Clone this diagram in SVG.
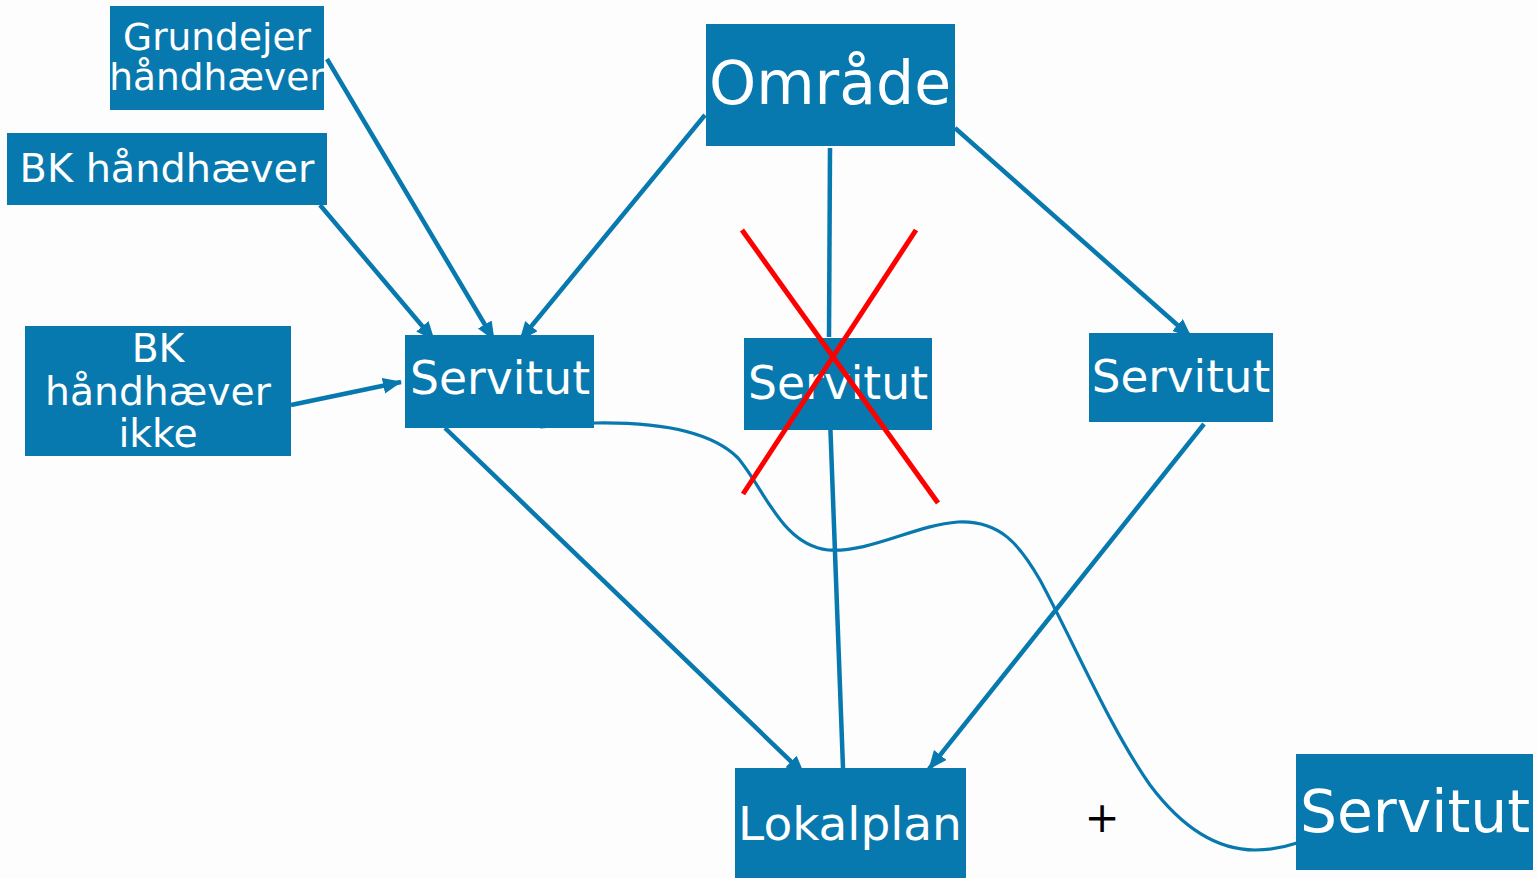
<svg xmlns="http://www.w3.org/2000/svg" width="1538" height="878" viewBox="0 0 1538 878">
<style>
.box{fill:#0779AE}
.t{font-family:"DejaVu Sans",Verdana,sans-serif;fill:#ffffff;text-anchor:middle}
.c{stroke:#0779AE;stroke-width:4.5;fill:none}
.a{marker-end:url(#ah)}
.x{stroke:#ff0000;stroke-width:5;fill:none}
</style>
<defs>
<marker id="ah" markerUnits="userSpaceOnUse" markerWidth="22" markerHeight="18" refX="18" refY="8" orient="auto">
<path d="M0,0 L19,8 L0,16 Z" fill="#0779AE"/>
</marker>
</defs>
<rect width="1538" height="878" fill="#fdfdfd"/>
<g id="connectors">
<line class="c a" x1="327" y1="59" x2="494" y2="340"/>
<line class="c a" x1="320" y1="205" x2="434" y2="340"/>
<line class="c a" x1="291" y1="405" x2="401" y2="382"/>
<line class="c a" x1="705" y1="115" x2="520" y2="340"/>
<line class="c" x1="830" y1="148" x2="829" y2="337"/>
<line class="c a" x1="955" y1="128" x2="1191" y2="337"/>
<line class="c a" x1="445" y1="428" x2="804" y2="774"/>
<line class="c" x1="830" y1="418" x2="843" y2="768"/>
<line class="c a" x1="1204" y1="424" x2="929" y2="769"/>
<path class="c" style="stroke-width:3.2" d="M540,427 L595,423 C660,422 712,432 738,458 C765,490 782,545 828,550 C870,553 915,525 958,522 C1000,520 1020,545 1040,580 C1075,645 1110,728 1150,785 C1180,825 1215,850 1255,850 C1272,850 1288,846 1297,843"/>
</g>
<g id="n-grundejer"><rect class="box" x="110" y="6" width="214" height="104"/><text class="t" x="217" y="50" font-size="37.5">Grundejer</text><text class="t" x="217" y="90" font-size="37.5">håndhæver</text></g>
<g id="n-bk"><rect class="box" x="7" y="133" width="320" height="72"/><text class="t" x="167" y="182" font-size="39.8">BK håndhæver</text></g>
<g id="n-bkikke"><rect class="box" x="25" y="326" width="266" height="130"/><text class="t" x="158" y="362" font-size="39.3">BK</text><text class="t" x="158" y="405" font-size="39.3">håndhæver</text><text class="t" x="158" y="447" font-size="39.3">ikke</text></g>
<g id="n-servitut1"><rect class="box" x="405" y="335" width="189" height="93"/><text class="t" x="500" y="394" font-size="45.6">Servitut</text></g>
<g id="n-omraade"><rect class="box" x="706" y="24" width="249" height="122"/><text class="t" x="830" y="104" font-size="60">Område</text></g>
<g id="n-servitut2"><rect class="box" x="744" y="338" width="188" height="92"/><text class="t" x="838" y="399" font-size="45.6">Servitut</text></g>
<g id="n-servitut3"><rect class="box" x="1089" y="333" width="184" height="89"/><text class="t" x="1181" y="392" font-size="45.2">Servitut</text></g>
<g id="n-lokalplan"><rect class="box" x="735" y="768" width="231" height="110"/><text class="t" x="850" y="840" font-size="47">Lokalplan</text></g>
<g id="n-servitut4"><rect class="box" x="1296" y="754" width="237" height="116"/><text class="t" x="1415" y="832" font-size="58.3">Servitut</text></g>
<g id="cross"><line class="x" x1="742" y1="230" x2="938" y2="503"/><line class="x" x1="916" y1="230" x2="743" y2="494"/></g>
<text x="1102" y="832" font-size="42" font-family="DejaVu Sans,sans-serif" text-anchor="middle" fill="#000">+</text>
</svg>
